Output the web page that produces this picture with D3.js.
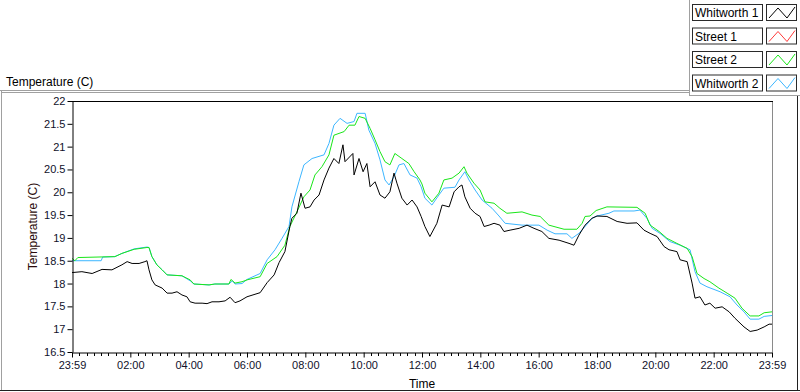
<!DOCTYPE html>
<html><head><meta charset="utf-8">
<script src="https://cdn.jsdelivr.net/npm/d3@7"></script>
<style>
html,body{margin:0;padding:0;background:#fff;}
svg{display:block;font-family:"Liberation Sans",Arial,sans-serif;}
</style></head>
<body>
<svg id="chart" width="800" height="392"></svg>
<script>
// ---------- data (hours since 23:59, temperature °C) ----------
const seriesNames = ["Whitworth 1", "Street 1", "Street 2", "Whitworth 2"];
const seriesColors = ["#000000", "#ff3a3a", "#19e619", "#3cb6ff"];
const yTickValues = [16.5,17,17.5,18,18.5,19,19.5,20,20.5,21,21.5,22];
const xTickHours = [0,2,4,6,8,10,12,14,16,18,20,22,24];
const xTickLabels = ["23:59","02:00","04:00","06:00","08:00","10:00","12:00","14:00","16:00","18:00","20:00","22:00","23:59"];

const whitworth1 = [[0,18.24],[0.34,18.26],[0.69,18.22],[1.03,18.31],[1.37,18.30],[1.71,18.41],[1.89,18.48],[2.06,18.44],[2.3,18.44],[2.5,18.48],[2.57,18.50],[2.64,18.30],[2.74,18.08],[2.85,17.97],[3.09,17.90],[3.26,17.79],[3.43,17.79],[3.6,17.82],[3.77,17.75],[3.94,17.71],[4.05,17.60],[4.22,17.57],[4.46,17.57],[4.63,17.56],[4.8,17.60],[5.04,17.60],[5.25,17.62],[5.42,17.70],[5.59,17.58],[5.76,17.62],[6.0,17.71],[6.45,17.80],[6.69,18.02],[6.93,18.19],[7.1,18.46],[7.3,18.70],[7.47,19.25],[7.54,19.43],[7.71,19.54],[7.85,19.98],[7.99,19.65],[8.16,19.68],[8.3,19.83],[8.47,19.94],[8.64,20.27],[8.81,20.53],[8.98,20.74],[9.15,20.63],[9.29,21.04],[9.36,20.67],[9.63,20.85],[9.67,20.38],[9.84,20.74],[9.98,20.45],[10.11,20.63],[10.22,20.12],[10.39,20.23],[10.56,19.94],[10.73,19.87],[10.9,20.01],[11.04,20.42],[11.14,20.20],[11.31,19.87],[11.49,19.72],[11.66,19.83],[11.83,19.68],[11.97,19.47],[12.1,19.25],[12.27,19.03],[12.51,19.32],[12.69,19.72],[12.93,19.68],[13.1,20.01],[13.27,20.12],[13.37,20.16],[13.47,19.90],[13.65,19.65],[13.82,19.54],[13.99,19.47],[14.13,19.25],[14.3,19.28],[14.47,19.32],[14.67,19.28],[14.81,19.14],[15.02,19.17],[15.33,19.21],[15.6,19.28],[15.84,19.21],[16.11,19.14],[16.35,18.99],[16.7,18.95],[17.04,18.88],[17.21,18.84],[17.38,19.06],[17.59,19.28],[17.83,19.43],[18.0,19.48],[18.34,19.47],[18.69,19.36],[19.03,19.32],[19.37,19.33],[19.61,19.17],[19.82,19.10],[20.06,19.03],[20.3,18.81],[20.47,18.74],[20.74,18.70],[20.85,18.52],[21.09,18.48],[21.26,18.01],[21.36,17.68],[21.53,17.71],[21.7,17.53],[21.87,17.57],[22.05,17.46],[22.29,17.49],[22.53,17.38],[22.73,17.24],[23.04,17.05],[23.25,16.95],[23.49,16.98],[23.73,17.05],[23.9,17.11],[24,17.11]];

const street1 = [];

const street2 = [[0,18.55],[0.1,18.50],[0.2,18.57],[1.47,18.59],[1.71,18.66],[2.13,18.75],[2.57,18.79],[2.64,18.79],[2.74,18.59],[2.91,18.41],[3.09,18.30],[3.26,18.19],[3.77,18.17],[4.05,18.08],[4.18,17.99],[4.7,17.97],[4.9,17.99],[5.38,17.99],[5.45,18.09],[5.59,18.01],[5.83,18.04],[6.0,18.08],[6.45,18.15],[6.69,18.44],[7.03,18.59],[7.3,18.84],[7.47,19.25],[7.71,19.57],[7.95,19.90],[8.16,20.05],[8.33,20.38],[8.57,20.56],[8.81,20.82],[8.98,21.25],[9.33,21.33],[9.5,21.47],[9.7,21.47],[9.84,21.66],[10.05,21.62],[10.22,21.40],[10.39,21.15],[10.56,20.89],[10.73,20.67],[10.9,20.60],[11.07,20.85],[11.31,20.74],[11.55,20.63],[11.73,20.45],[11.93,20.27],[12.0,20.18],[12.1,19.98],[12.34,19.79],[12.58,19.98],[12.75,20.27],[13.03,20.31],[13.27,20.42],[13.44,20.56],[13.54,20.42],[13.78,20.20],[13.99,20.05],[14.16,19.79],[14.47,19.76],[14.67,19.65],[14.91,19.54],[15.43,19.57],[15.77,19.50],[16.05,19.47],[16.35,19.28],[16.87,19.19],[17.31,19.19],[17.49,19.32],[17.59,19.47],[17.76,19.48],[17.97,19.60],[18.34,19.68],[19.37,19.67],[19.65,19.54],[19.82,19.28],[20.13,19.14],[20.4,18.99],[20.74,18.88],[21.09,18.77],[21.26,18.59],[21.43,18.22],[21.67,18.11],[21.87,18.04],[22.18,17.90],[22.46,17.79],[22.73,17.68],[22.97,17.46],[23.25,17.29],[23.55,17.29],[23.73,17.36],[24,17.38]];

const whitworth2 = [[0,18.50],[1.0,18.50],[1.05,18.58],[1.47,18.59],[1.71,18.66],[2.13,18.76],[2.57,18.80],[2.64,18.79],[2.74,18.59],[2.91,18.41],[3.09,18.30],[3.26,18.19],[3.77,18.17],[4.05,18.06],[4.18,17.99],[4.7,17.97],[4.9,17.99],[5.38,17.99],[5.5,18.06],[5.59,17.99],[5.83,18.0],[6.0,18.09],[6.45,18.22],[6.69,18.52],[6.96,18.74],[7.2,18.99],[7.44,19.25],[7.54,19.68],[7.78,20.23],[7.95,20.60],[8.23,20.74],[8.64,20.82],[8.81,21.07],[8.98,21.47],[9.19,21.62],[9.43,21.51],[9.67,21.55],[9.77,21.73],[10.05,21.73],[10.18,21.36],[10.39,21.07],[10.56,20.71],[10.73,20.27],[10.87,20.16],[11.04,20.34],[11.21,20.60],[11.38,20.63],[11.59,20.38],[11.83,20.31],[11.97,20.12],[12.1,19.87],[12.34,19.72],[12.58,19.94],[12.75,20.09],[13.13,20.11],[13.27,20.27],[13.47,20.45],[13.61,20.27],[13.82,20.05],[14.06,19.83],[14.4,19.65],[14.64,19.48],[14.85,19.32],[15.43,19.28],[16.01,19.28],[16.29,19.17],[16.56,19.09],[16.97,19.09],[17.14,18.99],[17.38,19.10],[17.59,19.25],[17.83,19.43],[18.0,19.48],[18.41,19.54],[18.58,19.59],[19.27,19.59],[19.47,19.61],[19.71,19.43],[19.89,19.21],[20.16,19.10],[20.5,18.92],[20.85,18.84],[21.19,18.74],[21.36,18.26],[21.53,18.01],[21.77,17.93],[22.22,17.82],[22.56,17.71],[22.8,17.53],[23.04,17.38],[23.25,17.22],[23.55,17.22],[23.73,17.28],[24,17.30]];

const seriesData = [whitworth1, street1, street2, whitworth2];

// ---------- layout ----------
const svg = d3.select("#chart");
const plot = {left: 72, right: 772, top: 101, bottom: 352};
const x = d3.scaleLinear().domain([0, 24]).range([plot.left, plot.right]);
const y = d3.scaleLinear().domain([16.5, 22]).range([plot.bottom, plot.top]);

// outer frame
svg.append("line").attr("x1",0).attr("x2",689).attr("y1",90.5).attr("y2",90.5).attr("stroke","#a0a0a0");
svg.append("line").attr("x1",1.5).attr("x2",1.5).attr("y1",91).attr("y2",391).attr("stroke","#a0a0a0");
svg.append("line").attr("x1",1).attr("x2",689).attr("y1",92.5).attr("y2",92.5).attr("stroke","#a0a0a0");
svg.append("line").attr("x1",0).attr("x2",800).attr("y1",390.5).attr("y2",390.5).attr("stroke","#202020");
svg.append("line").attr("x1",797.5).attr("x2",797.5).attr("y1",96).attr("y2",391).attr("stroke","#202020");
// legend panel frame
svg.append("line").attr("x1",689.5).attr("x2",689.5).attr("y1",0).attr("y2",96).attr("stroke","#a0a0a0");
svg.append("line").attr("x1",689).attr("x2",800).attr("y1",95.5).attr("y2",95.5).attr("stroke","#a0a0a0");

// title
svg.append("text").attr("x",6).attr("y",86).attr("font-size",12).attr("fill","#000").text("Temperature (C)");

// plot border
svg.append("rect").attr("x",plot.left).attr("y",plot.top).attr("width",plot.right-plot.left).attr("height",plot.bottom-plot.top)
  .attr("fill","#fff");
svg.append("line").attr("x1",plot.right+0.5).attr("x2",plot.right+0.5).attr("y1",plot.top).attr("y2",plot.bottom).attr("stroke","#8a8a8a");
svg.append("line").attr("x1",plot.left).attr("x2",plot.right+1).attr("y1",plot.top+0.5).attr("y2",plot.top+0.5).attr("stroke","#000");

// lines
const line = d3.line().x(d => x(d[0])).y(d => y(d[1]));
const drawOrder = [1, 3, 2, 0];
drawOrder.forEach(i => {
  if (!seriesData[i].length) return;
  svg.append("path").datum(seriesData[i]).attr("d", line)
    .attr("fill","none").attr("stroke", seriesColors[i]).attr("stroke-width", 1)
    .attr("stroke-linejoin","round");
});

// y axis
const yAxis = d3.axisLeft(y).tickValues(yTickValues).tickSize(5).tickSizeOuter(0)
  .tickFormat(d => (d % 1 === 0 ? d3.format("d")(d) : d3.format(".1f")(d)));
const gy = svg.append("g").attr("transform",`translate(${plot.left+0.5},0)`).call(yAxis);
gy.select(".domain").attr("stroke","#000");
gy.selectAll(".tick line").attr("stroke","#000");
gy.selectAll(".tick text").attr("font-size",11).attr("font-family","Liberation Sans, Arial, sans-serif").attr("fill","#10102a").attr("x",-7);

// x axis minor ticks
const minor = d3.range(0, 24.001, 0.25).filter(h => Math.abs(h/2 - Math.round(h/2)) > 1e-6);
svg.append("g").selectAll("line").data(minor).join("line")
  .attr("x1", d => Math.round(x(d))+0.5).attr("x2", d => Math.round(x(d))+0.5)
  .attr("y1", plot.bottom+1).attr("y2", plot.bottom+4).attr("stroke","#000");

const xAxis = d3.axisBottom(x).tickValues(xTickHours).tickSize(5).tickSizeOuter(0)
  .tickFormat((d,i) => xTickLabels[i]);
const gx = svg.append("g").attr("transform",`translate(0,${plot.bottom+0.5})`).call(xAxis);
gx.select(".domain").attr("stroke","#000");
gx.selectAll(".tick line").attr("stroke","#000");
gx.selectAll(".tick text").attr("font-size",11).attr("font-family","Liberation Sans, Arial, sans-serif").attr("fill","#10102a").attr("y",9);

// axis titles
svg.append("text").attr("x", (plot.left+plot.right)/2).attr("y", 388).attr("text-anchor","middle")
  .attr("font-size",12).attr("fill","#000").text("Time");
svg.append("text").attr("transform",`translate(37,${(plot.top+plot.bottom)/2}) rotate(-90)`)
  .attr("text-anchor","middle").attr("font-size",12).attr("fill","#2a0a0a").text("Temperature (C)");

// legend
const leg = svg.append("g");
seriesNames.forEach((name, i) => {
  const ly = 4 + i * 23.5;
  const g = leg.append("g").attr("transform",`translate(0,${ly})`);
  g.append("rect").attr("x",692.5).attr("y",0.5).attr("width",70).attr("height",16).attr("fill","#fff").attr("stroke","#2a2a2a");
  g.append("text").attr("x",695).attr("y",13).attr("font-size",12).attr("fill","#000").text(name);
  g.append("rect").attr("x",766.5).attr("y",0.5).attr("width",30).attr("height",16).attr("fill","#fff").attr("stroke","#2a2a2a");
  g.append("path").attr("d","M769,14 L778,4 L787,14 L795,3").attr("fill","none").attr("stroke",seriesColors[i]).attr("stroke-width",1);
});
</script>
</body></html>
